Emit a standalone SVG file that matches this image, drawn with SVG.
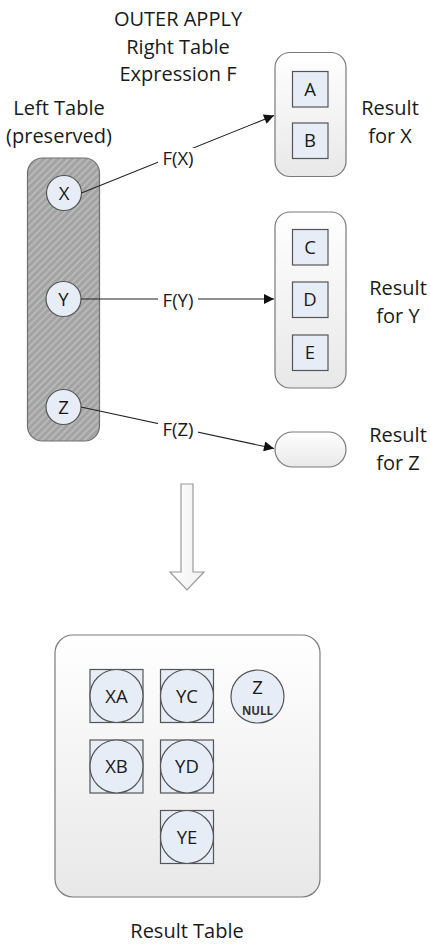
<svg xmlns="http://www.w3.org/2000/svg" width="431" height="946" viewBox="0 0 431 946">
<defs>
<style>
text{font-family:"Open Sans","Liberation Sans",sans-serif;fill:#1a1a1a;text-anchor:middle}
.t{font-size:20px}
.lbl{font-size:18.5px}
.sq{fill:#e6edf7;stroke:#555;stroke-width:1.2}
.cir{fill:#e6edf7;stroke:#555;stroke-width:1.2}
.box{fill:url(#gBox);stroke:#7a7a7a;stroke-width:1.2}
.conn{stroke:#222;stroke-width:1.1;fill:none;marker-end:url(#arr)}
.bg{fill:#fff}
</style>
<linearGradient id="gBox" x1="0" y1="0" x2="0" y2="1">
<stop offset="0" stop-color="#ffffff"/>
<stop offset="1" stop-color="#e8e8e8"/>
</linearGradient>
<linearGradient id="gArrow" x1="0" y1="0" x2="1" y2="0">
<stop offset="0" stop-color="#ffffff"/>
<stop offset="1" stop-color="#f0f0f0"/>
</linearGradient>
<pattern id="hatch" width="5" height="5" patternUnits="userSpaceOnUse" patternTransform="rotate(45)">
<rect width="5" height="5" fill="#a3a3a3"/>
<rect width="1.6" height="5" fill="#bdbdbd"/>
</pattern>
<marker id="arr" viewBox="0 0 10 10" refX="10" refY="5" markerWidth="15" markerHeight="10" markerUnits="userSpaceOnUse" orient="auto">
<path d="M0,0 L10,5 L0,10 Z" fill="#111"/>
</marker>
</defs>

<g id="title">
<text class="t" x="178" y="26">OUTER APPLY</text>
<text class="t" x="178" y="54">Right Table</text>
<text class="t" x="178" y="81">Expression F</text>
</g>

<g id="left-table">
<text class="t" x="59" y="115">Left Table</text>
<text class="t" x="59" y="143">(preserved)</text>
<rect x="27.5" y="158" width="72" height="283" rx="15" fill="url(#hatch)" stroke="#707070" stroke-width="1.2"/>
</g>

<g id="node-x">
<circle class="cir" cx="64" cy="193" r="17.5"/>
<text class="lbl" x="64" y="199.5">X</text>
</g>
<g id="node-y">
<circle class="cir" cx="63.5" cy="299" r="17.5"/>
<text class="lbl" x="63.5" y="305.5">Y</text>
</g>
<g id="node-z">
<circle class="cir" cx="63.5" cy="407" r="17.5"/>
<text class="lbl" x="63.5" y="413.5">Z</text>
</g>

<g id="result-x">
<rect class="box" x="275" y="52.5" width="71" height="124" rx="15"/>
<rect class="sq" x="292.5" y="71.5" width="35.5" height="35.5"/>
<text class="lbl" x="310" y="95.5">A</text>
<rect class="sq" x="292.5" y="123" width="35.5" height="35.5"/>
<text class="lbl" x="310" y="147">B</text>
<text class="t" x="390" y="115">Result</text>
<text class="t" x="390" y="143">for X</text>
</g>

<g id="result-y">
<rect class="box" x="275" y="212" width="71" height="176" rx="15"/>
<rect class="sq" x="292.5" y="229.5" width="35.5" height="35.5"/>
<text class="lbl" x="310" y="253.5">C</text>
<rect class="sq" x="292.5" y="282" width="35.5" height="35.5"/>
<text class="lbl" x="310" y="306">D</text>
<rect class="sq" x="292.5" y="335" width="35.5" height="35.5"/>
<text class="lbl" x="310" y="359">E</text>
<text class="t" x="398" y="295">Result</text>
<text class="t" x="398" y="323">for Y</text>
</g>

<g id="result-z">
<rect class="box" x="275" y="432" width="71" height="35" rx="17.5"/>
<text class="t" x="398" y="442">Result</text>
<text class="t" x="398" y="470">for Z</text>
</g>

<g id="connectors">
<line class="conn" x1="81.5" y1="193" x2="274" y2="115.5"/>
<line class="conn" x1="81" y1="299" x2="274" y2="299"/>
<line class="conn" x1="81" y1="407" x2="274" y2="448.5"/>
<rect class="bg" x="158" y="148" width="40" height="22"/>
<text class="lbl" x="178" y="165">F(X)</text>
<rect class="bg" x="158" y="289" width="40" height="22"/>
<text class="lbl" x="178" y="307">F(Y)</text>
<rect class="bg" x="158" y="419" width="40" height="22"/>
<text class="lbl" x="178" y="436">F(Z)</text>
<path d="M181,484 H193 V572 H204 L187,590 L170,572 H181 Z" fill="url(#gArrow)" stroke="#9a9a9a" stroke-width="1.2"/>
</g>

<g id="result-table">
<rect class="box" x="55" y="635" width="265" height="262" rx="18"/>
<g id="cell-xa">
<rect class="sq" x="90" y="669.5" width="53" height="53"/>
<circle class="cir" cx="116.5" cy="696" r="26.5"/>
<text class="lbl" x="116.5" y="702.5">XA</text>
</g>
<g id="cell-yc">
<rect class="sq" x="160.5" y="669.5" width="53" height="53"/>
<circle class="cir" cx="187" cy="696" r="26.5"/>
<text class="lbl" x="187" y="702.5">YC</text>
</g>
<g id="cell-z">
<circle class="cir" cx="257.5" cy="696.5" r="26.5"/>
<text class="lbl" x="257.5" y="694">Z</text>
<text x="257.5" y="715" style="font-size:11.5px;font-weight:bold;fill:#333">NULL</text>
</g>
<g id="cell-xb">
<rect class="sq" x="90" y="740" width="53" height="53"/>
<circle class="cir" cx="116.5" cy="766.5" r="26.5"/>
<text class="lbl" x="116.5" y="773">XB</text>
</g>
<g id="cell-yd">
<rect class="sq" x="160.5" y="740" width="53" height="53"/>
<circle class="cir" cx="187" cy="766.5" r="26.5"/>
<text class="lbl" x="187" y="773">YD</text>
</g>
<g id="cell-ye">
<rect class="sq" x="160.5" y="810.5" width="53" height="53"/>
<circle class="cir" cx="187" cy="837" r="26.5"/>
<text class="lbl" x="187" y="843.5">YE</text>
</g>
<text class="t" x="187" y="938">Result Table</text>
</g>
</svg>
